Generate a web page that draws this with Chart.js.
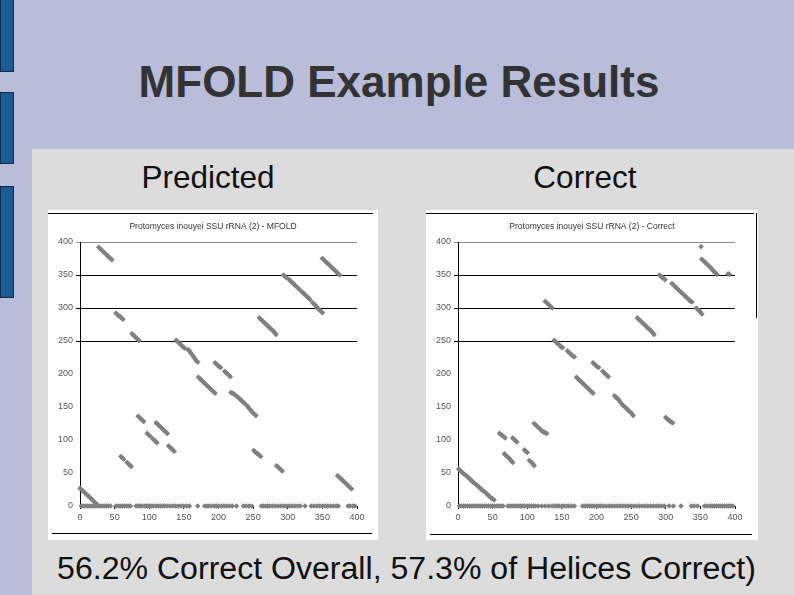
<!DOCTYPE html>
<html>
<head>
<meta charset="utf-8">
<script src="https://cdn.jsdelivr.net/npm/chart.js@4.4.1/dist/chart.umd.min.js"></script>
<style>
  body { margin: 0; }
  #slide { position: relative; width: 794px; height: 595px; overflow: hidden; background: #b9bdd9; font-family: "Liberation Sans", Arial, sans-serif; }
  .bar { position: absolute; left: 0; width: 12px; background: #1c5b93; border: 1px solid #0e2c4a; }
  #panel { position: absolute; left: 32px; top: 149px; width: 762px; height: 446px; background: #dcdcdc; }
  .txt { position: absolute; line-height: 1; white-space: nowrap; }
  .box { position: absolute; background: #fff; }
  .rule { position: absolute; background: #000; }
  canvas { position: absolute; }
</style>
</head>
<body>
<div id="slide">
  <div class="bar" style="top:-1px;height:71px"></div>
  <div class="bar" style="top:92px;height:70px"></div>
  <div class="bar" style="top:186px;height:110px"></div>
  <div id="panel"></div>

  <div class="txt" style="left:0;width:798px;top:60px;text-align:center;font-size:44px;font-weight:bold;color:#333">MFOLD Example Results</div>
  <div class="txt" style="left:108px;width:200px;top:162px;text-align:center;font-size:31.5px;color:#111">Predicted</div>
  <div class="txt" style="left:485px;width:200px;top:162px;text-align:center;font-size:31.5px;color:#111">Correct</div>
  <div class="txt" style="left:0;width:813px;top:552px;text-align:center;font-size:32.1px;color:#111">56.2% Correct Overall, 57.3% of Helices Correct)</div>

  <div class="box" style="left:48px;top:210px;width:330px;height:330px"></div>
  <div class="box" style="left:426px;top:210px;width:332px;height:330px"></div>
  <div class="rule" style="left:48px;top:213px;width:325px;height:1px"></div>
  <div class="rule" style="left:52px;top:533px;width:320px;height:1px"></div>
  <div class="rule" style="left:426px;top:213px;width:328px;height:1px"></div>
  <div class="rule" style="left:756px;top:213px;width:1px;height:105px"></div>
  <div class="rule" style="left:430px;top:534px;width:322px;height:1px"></div>

  <canvas id="predictedChart" width="330" height="330" style="left:48px;top:210px"></canvas>
  <canvas id="correctChart" width="332" height="330" style="left:426px;top:210px"></canvas>
</div>

<script>
// Axis ticks (both axes run 0..400 in steps of 50)
const axisTicks = [0, 50, 100, 150, 200, 250, 300, 350, 400];
const darkGridValues = [250, 300, 350];

// MFOLD prediction: [base, paired base]
const predictedPairs = [
  [0,27],[2,25],[4,23],[6,21],[8,19],[10,17],[12,15],[14,13],[16,11],[18,9],[20,7],[22,5],[24,3],
  [27,392],[29,390],[31,388],[33,386],[35,384],[38,381],[40,379],[42,377],[44,375],[46,373],
  [52,292],[54,290],[56,288],[58,287],[60,285],[62,283],
  [59,75],[61,73],[63,71],[68,66],[70,64],[72,62],[74,60],
  [75,261],[77,259],[79,257],[81,255],[83,253],[85,251],
  [84,136],[86,134],[88,132],[90,130],[92,128],
  [97,110],[99,108],[101,106],[105,102],[107,100],[109,98],[111,96],
  [110,126],[112,124],[114,122],[116,120],[118,118],[120,116],[122,114],[124,112],[126,110],
  [128,91],[130,89],[132,87],[134,85],[136,83],
  [139,251],[141,249],[143,247],[145,245],[147,243],[149,241],[151,239],
  [156,237],[158,235],[160,232],[162,229],[164,226],[166,223],[168,220],[170,218],
  [171,195],[173,193],[175,191],[177,189],[179,187],[181,185],[183,183],[185,181],[187,179],[189,177],[191,175],[193,173],[195,171],
  [195,217],[197,215],[199,213],[201,211],[203,210],[209,204],[211,202],[213,200],[215,198],[217,196],
  [218,172],[220,171],[222,170],[224,168],[227,166],[229,164],[231,162],[233,160],[235,158],[237,156],
  [240,153],[242,151],[244,148],[246,146],[248,143],[250,141],[252,139],[254,137],
  [251,84],[253,82],[255,80],[257,79],[259,77],[261,75],
  [259,285],[261,283],[263,281],[265,279],[267,277],[269,275],[271,273],[273,271],[275,269],[277,267],[279,265],[281,263],[283,260],
  [284,61],[286,59],[288,57],[290,55],[292,53],
  [294,350],[296,348],[298,346],[302,343],[304,341],[306,339],[308,337],[310,335],[312,333],[314,331],[316,329],
  [320,325],[322,323],[324,321],[326,319],[328,317],[330,315],[332,313],[336,308],[338,306],[340,304],[342,301],[344,299],[346,297],[348,295],[350,293],
  [350,375],[352,373],[354,371],[356,369],[358,367],[360,365],[363,362],[365,360],[367,358],[369,356],[371,354],[373,352],[375,350],
  [372,46],[374,44],[376,42],[378,40],[380,38],[382,36],[384,34],[386,32],[388,30],[390,28],[392,26]
];
// MFOLD prediction: unpaired bases (plotted at 0)
const predictedUnpaired = [
  2,5,8,11,14,17,20,23,26,29,32,35,38,41,44,
  52,55,58,61,64,67,70,73,
  81,84,87,90,94,97,100,103,106,110,113,116,119,122,126,130,134,138,142,146,150,154,158,
  170,
  180,183,186,190,194,197,200,204,208,212,216,220,226,
  236,240,244,248,
  262,265,268,271,274,278,282,286,290,294,298,302,306,310,314,318,
  325,
  334,338,342,346,350,354,358,362,366,370,373,
  387,390,394,397
];

// Correct structure: [base, paired base]
const correctPairs = [
  [1,56],[3,54],[5,52],[7,50],[9,48],[12,46],[14,44],[16,42],[18,40],[20,38],[22,36],[24,34],[27,32],
  [29,30],[31,28],[33,26],[35,24],[38,22],[40,20],[42,18],[44,16],[46,14],[48,12],[50,11],[52,9],
  [60,110],[62,108],[64,107],[66,105],[68,103],
  [67,79],[69,77],[71,75],[73,73],[75,71],[77,68],[79,66],
  [79,103],[81,101],[83,99],[85,97],
  [96,85],[98,83],[100,81],
  [103,69],[105,67],[107,65],[109,63],[110,61],
  [110,125],[112,123],[114,121],[116,119],[118,117],[120,115],[122,113],[124,112],[126,111],[128,110],
  [126,310],[128,308],[130,306],[132,304],[134,302],[136,300],
  [139,251],[141,249],[143,247],[145,245],[147,243],[149,241],[151,240],
  [158,235],[160,233],[162,231],[164,229],[166,227],[168,226],
  [171,195],[173,193],[175,191],[177,189],[179,187],[181,185],[183,183],[185,181],[187,179],[189,177],[191,175],[193,173],[195,171],
  [195,217],[197,215],[199,213],[201,211],[203,210],[209,204],[211,202],[213,200],[215,198],[217,196],
  [226,167],[228,165],[230,163],[232,161],[234,158],
  [237,154],[239,152],[241,150],[243,148],[245,146],[247,144],[249,142],[251,140],[253,137],
  [259,285],[261,283],[263,281],[265,279],[267,277],[269,275],[271,273],[273,271],[275,269],[277,267],[279,265],[281,263],[283,260],
  [291,350],[293,348],[295,346],[297,345],[299,343],
  [300,134],[302,132],[304,130],[306,129],[308,127],[310,126],
  [309,337],[311,335],[313,333],[315,331],[317,329],[319,327],[322,324],[324,322],[326,320],[328,318],[330,316],[332,314],[334,312],[336,310],[338,309],
  [344,300],[346,298],[348,296],[350,294],[352,291],
  [351,393],
  [352,374],[354,372],[356,370],[358,368],[360,366],[362,364],[364,362],[366,360],[368,357],[370,355],[372,353],[374,351],
  [390,352],[392,351]
];
// Correct structure: unpaired bases (plotted at 0)
const correctUnpaired = [
  2,5,8,11,14,17,20,23,26,29,32,35,38,41,44,47,50,53,56,59,62,65,
  72,75,78,81,84,87,90,93,96,100,103,106,109,112,116,
  121,126,131,
  136,140,143,146,150,153,157,160,164,168,
  180,183,187,190,193,196,200,203,206,210,214,218,222,226,230,234,238,242,246,250,254,258,262,266,270,274,278,282,286,290,294,298,
  305,311,
  322,
  337,341,346,
  356,360,364,367,370,373,376,379,382,385,388,391,394,397
];

function gridColor(value) {
  if (darkGridValues.includes(value)) return '#000';
  if (value === 400) return '#8c8c8c';
  return 'rgba(0,0,0,0)';
}

function makeChart(id, title, pairs, unpaired, rightGap) {
  const points = pairs.map(p => ({ x: p[0], y: p[1] }))
    .concat(unpaired.map(v => ({ x: v, y: 0 })));

  return new Chart(document.getElementById(id), {
    type: 'scatter',
    data: {
      datasets: [{
        data: points,
        pointStyle: 'rectRot',
        pointRadius: 2.8,
        pointBorderWidth: 0,
        backgroundColor: '#808080',
        borderColor: '#808080',
        clip: false
      }]
    },
    options: {
      responsive: false,
      animation: false,
      events: [],
      plugins: {
        legend: { display: false },
        tooltip: { enabled: false },
        title: {
          display: true,
          text: title,
          color: '#333',
          font: { family: 'Liberation Sans', size: 8.5, weight: 'normal' },
          padding: { top: 12, bottom: 9.8 }
        }
      },
      scales: {
        x: {
          type: 'linear',
          min: 0,
          max: 400,
          afterBuildTicks: s => { s.ticks = axisTicks.map(v => ({ value: v })); },
          afterFit: s => { s.height = 34; },
          border: { display: false },
          grid: { drawOnChartArea: false, tickLength: 3, color: '#000' },
          ticks: { color: '#555', padding: 3, maxRotation: 0, font: { family: 'Liberation Sans', size: 9 } }
        },
        y: {
          type: 'linear',
          min: 0,
          max: 400,
          afterBuildTicks: s => { s.ticks = axisTicks.map(v => ({ value: v })); },
          afterFit: s => { s.width = 32; },
          border: { display: true, color: '#000', width: 1 },
          grid: { tickLength: 4, color: ctx => gridColor(ctx.tick ? ctx.tick.value : null) },
          ticks: { color: '#555', padding: 3, font: { family: 'Liberation Sans', size: 9 } }
        },
        // empty right-hand axis: only reserves the white margin right of the plot
        gap: {
          type: 'linear',
          position: 'right',
          min: 0,
          max: 1,
          afterFit: s => { s.width = rightGap; },
          border: { display: false },
          grid: { display: false },
          ticks: { display: false }
        }
      }
    }
  });
}

makeChart('predictedChart', 'Protomyces inouyei SSU rRNA (2) - MFOLD', predictedPairs, predictedUnpaired, 21);
makeChart('correctChart', 'Protomyces inouyei SSU rRNA (2) - Correct', correctPairs, correctUnpaired, 23);
</script>
</body>
</html>
